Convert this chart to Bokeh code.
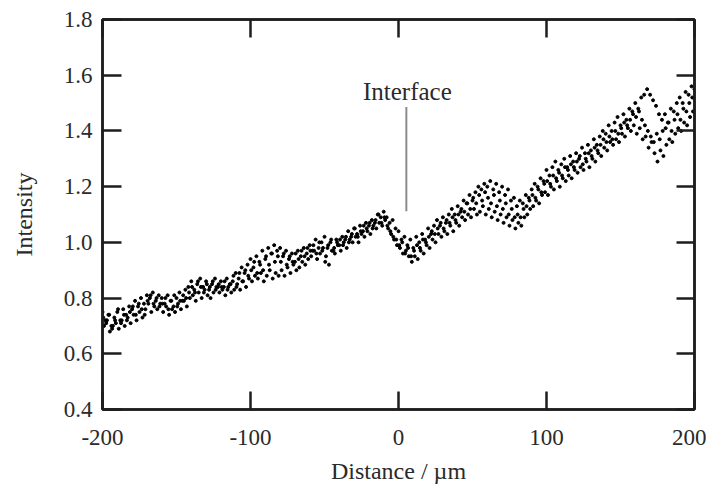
from bokeh.plotting import figure
from bokeh.models import Range1d, LinearAxis, FixedTicker, ColumnDataSource
from bokeh.embed import file_html
from bokeh.resources import INLINE
import numpy as np

# ---- data ----
scan_a_x = np.arange(-200, 201, 2)
scan_a_y = [
    0.75, 0.72, 0.74, 0.70, 0.73, 0.75, 0.72, 0.76, 0.74, 0.77,
    0.76, 0.79, 0.77, 0.80, 0.78, 0.81, 0.80, 0.82, 0.79, 0.81,
    0.80, 0.78, 0.81, 0.79, 0.77, 0.80, 0.82, 0.79, 0.83, 0.84,
    0.86, 0.83, 0.85, 0.87, 0.84, 0.86, 0.83, 0.85, 0.87, 0.84,
    0.86, 0.84, 0.87, 0.85, 0.86, 0.89, 0.87, 0.91, 0.89, 0.92,
    0.94, 0.91, 0.95, 0.93, 0.97, 0.94, 0.98, 0.96, 0.99, 0.97,
    0.98, 0.95, 0.97, 0.94, 0.96, 0.93, 0.97, 0.95, 0.98, 0.96,
    0.99, 0.97, 1.01, 0.98, 1.00, 1.02, 0.98, 1.00, 0.97, 1.01,
    0.99, 1.02, 1.01, 1.04, 1.02, 1.05, 1.03, 1.06, 1.04, 1.07,
    1.06, 1.08, 1.07, 1.10, 1.09, 1.11, 1.09, 1.07, 1.08, 1.05,
    1.04, 1.01, 1.02, 0.99, 1.01, 0.98, 1.02, 1.00, 1.03, 1.01,
    1.05, 1.03, 1.06, 1.08, 1.06, 1.09, 1.07, 1.10, 1.12, 1.10,
    1.13, 1.11, 1.15, 1.14, 1.17, 1.15, 1.18, 1.20, 1.19, 1.21,
    1.20, 1.22, 1.19, 1.21, 1.18, 1.20, 1.17, 1.19, 1.15, 1.16,
    1.13, 1.15, 1.14, 1.17, 1.16, 1.19, 1.21, 1.20, 1.23, 1.22,
    1.26, 1.24, 1.27, 1.29, 1.26, 1.28, 1.30, 1.27, 1.31, 1.29,
    1.32, 1.30, 1.34, 1.32, 1.35, 1.33, 1.37, 1.35, 1.38, 1.40,
    1.39, 1.42, 1.40, 1.43, 1.45, 1.42, 1.46, 1.44, 1.48, 1.47,
    1.50, 1.48, 1.52, 1.53, 1.55, 1.53, 1.51, 1.49, 1.46, 1.44,
    1.46, 1.43, 1.48, 1.47, 1.50, 1.52, 1.50, 1.54, 1.53, 1.56,
    1.55,
]
scan_b_x = np.arange(-199, 200, 2)
scan_b_y = [
    0.70, 0.72, 0.68, 0.70, 0.71, 0.69, 0.72, 0.70, 0.73, 0.71,
    0.74, 0.72, 0.75, 0.73, 0.76, 0.78, 0.75, 0.77, 0.76, 0.78,
    0.75, 0.77, 0.74, 0.76, 0.75, 0.78, 0.76, 0.79, 0.77, 0.80,
    0.81, 0.79, 0.82, 0.80, 0.83, 0.81, 0.80, 0.82, 0.84, 0.82,
    0.83, 0.81, 0.84, 0.82, 0.83, 0.85, 0.83, 0.86, 0.84, 0.87,
    0.86, 0.88, 0.87, 0.89, 0.86, 0.88, 0.90, 0.87, 0.89, 0.88,
    0.90, 0.88, 0.91, 0.89, 0.92, 0.90, 0.91, 0.93, 0.92, 0.94,
    0.95, 0.97, 0.94, 0.96, 0.98, 0.95, 0.92, 0.97, 0.96, 0.99,
    0.97, 1.00, 0.98, 1.01, 1.00, 1.02, 1.00, 1.03, 1.02, 1.04,
    1.03, 1.06, 1.05, 1.07, 1.06, 1.08, 1.05, 1.03, 1.01, 0.99,
    0.98, 0.96, 0.97, 0.95, 0.93, 0.95, 0.94, 0.97, 0.96, 0.99,
    0.98, 1.01, 1.00, 1.03, 1.02, 1.04, 1.03, 1.06, 1.04, 1.07,
    1.06, 1.09, 1.08, 1.10, 1.09, 1.12, 1.10, 1.11, 1.13, 1.10,
    1.12, 1.09, 1.11, 1.08, 1.10, 1.07, 1.09, 1.06, 1.08, 1.05,
    1.07, 1.06, 1.09, 1.10, 1.12, 1.13, 1.15, 1.14, 1.17, 1.18,
    1.17, 1.20, 1.19, 1.22, 1.20, 1.23, 1.22, 1.24, 1.23, 1.26,
    1.25, 1.27, 1.26, 1.29, 1.27, 1.30, 1.29, 1.32, 1.31, 1.34,
    1.33, 1.36, 1.35, 1.37, 1.36, 1.39, 1.38, 1.41, 1.40, 1.42,
    1.39, 1.41, 1.37, 1.38, 1.34, 1.36, 1.32, 1.29, 1.33, 1.31,
    1.35, 1.37, 1.36, 1.39, 1.41, 1.40, 1.43, 1.42, 1.45, 1.47,
]
scan_c_x = np.arange(-199.5, 200, 2)
scan_c_y = [
    0.73, 0.71, 0.74, 0.69, 0.72, 0.76, 0.71, 0.74, 0.72, 0.75,
    0.77, 0.74, 0.78, 0.76, 0.74, 0.79, 0.81, 0.78, 0.80, 0.77,
    0.78, 0.80, 0.76, 0.79, 0.81, 0.77, 0.79, 0.81, 0.80, 0.82,
    0.84, 0.82, 0.86, 0.84, 0.82, 0.85, 0.84, 0.86, 0.83, 0.85,
    0.84, 0.86, 0.83, 0.85, 0.88, 0.84, 0.89, 0.86, 0.90, 0.88,
    0.90, 0.93, 0.89, 0.92, 0.90, 0.95, 0.92, 0.96, 0.93, 0.95,
    0.93, 0.96, 0.92, 0.95, 0.93, 0.96, 0.94, 0.97, 0.95, 0.98,
    0.97, 0.99, 0.96, 1.00, 0.97, 0.93, 0.99, 1.01, 0.98, 1.00,
    1.01, 0.99, 1.02, 1.00, 1.03, 1.05, 1.02, 1.04, 1.06, 1.05,
    1.07, 1.05, 1.08, 1.10, 1.07, 1.09, 1.06, 1.04, 1.02, 1.01,
    0.99, 1.00, 0.96, 0.98, 0.95, 0.97, 0.99, 0.98, 1.01, 1.00,
    1.02, 1.04, 1.03, 1.05, 1.07, 1.05, 1.08, 1.07, 1.09, 1.08,
    1.10, 1.12, 1.11, 1.14, 1.12, 1.16, 1.14, 1.17, 1.15, 1.18,
    1.16, 1.14, 1.17, 1.13, 1.15, 1.12, 1.14, 1.10, 1.12, 1.09,
    1.10, 1.09, 1.12, 1.13, 1.15, 1.17, 1.16, 1.19, 1.18, 1.21,
    1.22, 1.21, 1.24, 1.23, 1.25, 1.24, 1.27, 1.26, 1.28, 1.27,
    1.29, 1.31, 1.28, 1.30, 1.32, 1.31, 1.34, 1.33, 1.35, 1.37,
    1.36, 1.38, 1.37, 1.40, 1.39, 1.41, 1.43, 1.42, 1.44, 1.46,
    1.45, 1.47, 1.44, 1.42, 1.40, 1.38, 1.36, 1.39, 1.37, 1.40,
    1.41, 1.43, 1.40, 1.44, 1.46, 1.44, 1.48, 1.47, 1.50, 1.52,
]
x_ticks = [-200, -100, 0, 100, 200]
x_tick_labels = ["-200", "-100", "0", "100", "200"]
y_ticks = [0.4, 0.6, 0.8, 1.0, 1.2, 1.4, 1.6, 1.8]
y_tick_labels = ["0.4", "0.6", "0.8", "1.0", "1.2", "1.4", "1.6", "1.8"]
interface_x = 5.3
interface_y = [1.112, 1.486]
interface_label = "Interface"

FONT = "Liberation Serif"
TXT = "#2a2a2a"
LINE = "#1e1e1e"

p = figure(width=706, height=486, output_backend="svg", toolbar_location=None,
           x_range=Range1d(-200, 200), y_range=Range1d(0.4, 1.8),
           min_border_left=102, min_border_right=12, min_border_top=19,
           min_border_bottom=76, x_axis_label="Distance / µm",
           y_axis_label="Intensity")
p.grid.visible = False
p.outline_line_color = LINE
p.outline_line_width = 2.5
p.background_fill_color = "white"
p.border_fill_color = "white"

def style(ax, ticks, labels, tick_len, show=True):
    ax.ticker = FixedTicker(ticks=ticks)
    ax.minor_tick_line_color = None
    ax.major_tick_in = tick_len
    ax.major_tick_out = 0
    ax.major_tick_line_width = 2.5
    ax.major_tick_line_color = LINE
    ax.axis_line_width = 2.5
    ax.axis_line_color = LINE
    if show:
        ax.major_label_overrides = {t: l for t, l in zip(ticks, labels)}
        ax.major_label_text_font = FONT
        ax.major_label_text_font_size = "23px"
        ax.major_label_text_color = TXT
        ax.axis_label_text_font = FONT
        ax.axis_label_text_font_size = "24px"
        ax.axis_label_text_font_style = "normal"
        ax.axis_label_text_color = TXT
    else:
        ax.major_label_overrides = {t: "" for t in ticks}
        ax.major_label_text_font_size = "1px"
        ax.major_label_standoff = 0

style(p.xaxis[0], x_ticks, x_tick_labels, 18)
p.xaxis[0].major_label_standoff = 20
p.xaxis[0].axis_label_standoff = 10
style(p.yaxis[0], y_ticks, y_tick_labels, 19)
p.yaxis[0].major_label_standoff = 10
p.yaxis[0].axis_label_standoff = 24

top = LinearAxis()
style(top, x_ticks, x_tick_labels, 18, show=False)
p.add_layout(top, "above")
right = LinearAxis()
style(right, y_ticks, y_tick_labels, 18, show=False)
p.add_layout(right, "right")

for xs, ys in ((scan_a_x, scan_a_y), (scan_b_x, scan_b_y), (scan_c_x, scan_c_y)):
    src = ColumnDataSource(dict(x=xs, y=ys))
    p.scatter("x", "y", source=src, size=3, color="black", marker="circle")

p.line([interface_x, interface_x], interface_y, line_color="#8c8c8c", line_width=2)
p.text([interface_x + 0.7], [interface_y[1] + 0.055], text=[interface_label],
       text_font={"value": FONT}, text_font_size={"value": "25px"},
       text_color=TXT, text_align="center", text_baseline="alphabetic")

open("out.html", "w").write(file_html(p, INLINE))
